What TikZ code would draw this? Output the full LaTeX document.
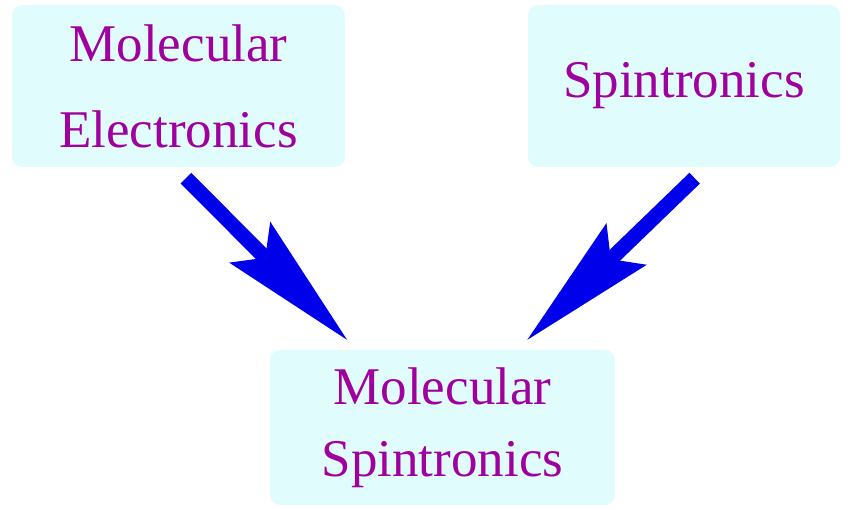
\documentclass[tikz,border=0pt]{standalone}
\usepackage{fontspec}
\setmainfont{Liberation Serif}
\usetikzlibrary{arrows.meta}
\definecolor{boxcyan}{RGB}{224,252,252}
\definecolor{labelpurple}{RGB}{160,0,160}
\definecolor{arrowblue}{RGB}{0,0,235}

\begin{document}
\begin{tikzpicture}[
    x=1pt, y=1pt,
    box/.style={fill=boxcyan, rounded corners=10pt, align=center, text=labelpurple, inner sep=0pt},
    bigarrow/.style={draw=arrowblue, line width=15pt, -{Stealth[length=138pt, width=58pt, inset=22pt, line width=0pt]}}
  ]
  \useasboundingbox (0,0) rectangle (848,509);
  \node[box, minimum width=333pt, minimum height=162pt, font=\fontsize{53}{86}\selectfont] (molel) at (178.5,423) {Molecular\\Electronics};
  \node[box, minimum width=312pt, minimum height=162pt, font=\fontsize{53}{64}\selectfont] (spin) at (684,423) {Spintronics};
  \node[box, minimum width=345pt, minimum height=155pt, font=\fontsize{53}{72}\selectfont] (molspin) at (442.5,81.5) {Molecular\\Spintronics};
  \draw[bigarrow, shorten <=15.5pt, shorten >=14pt] ([xshift=-3.5pt]molel.south) -- ([xshift=-85.5pt]molspin.north);
  \draw[bigarrow, shorten <=15.8pt, shorten >=14.4pt] ([xshift=22pt]spin.south) -- ([xshift=74.5pt]molspin.north);
\end{tikzpicture}
\end{document}
